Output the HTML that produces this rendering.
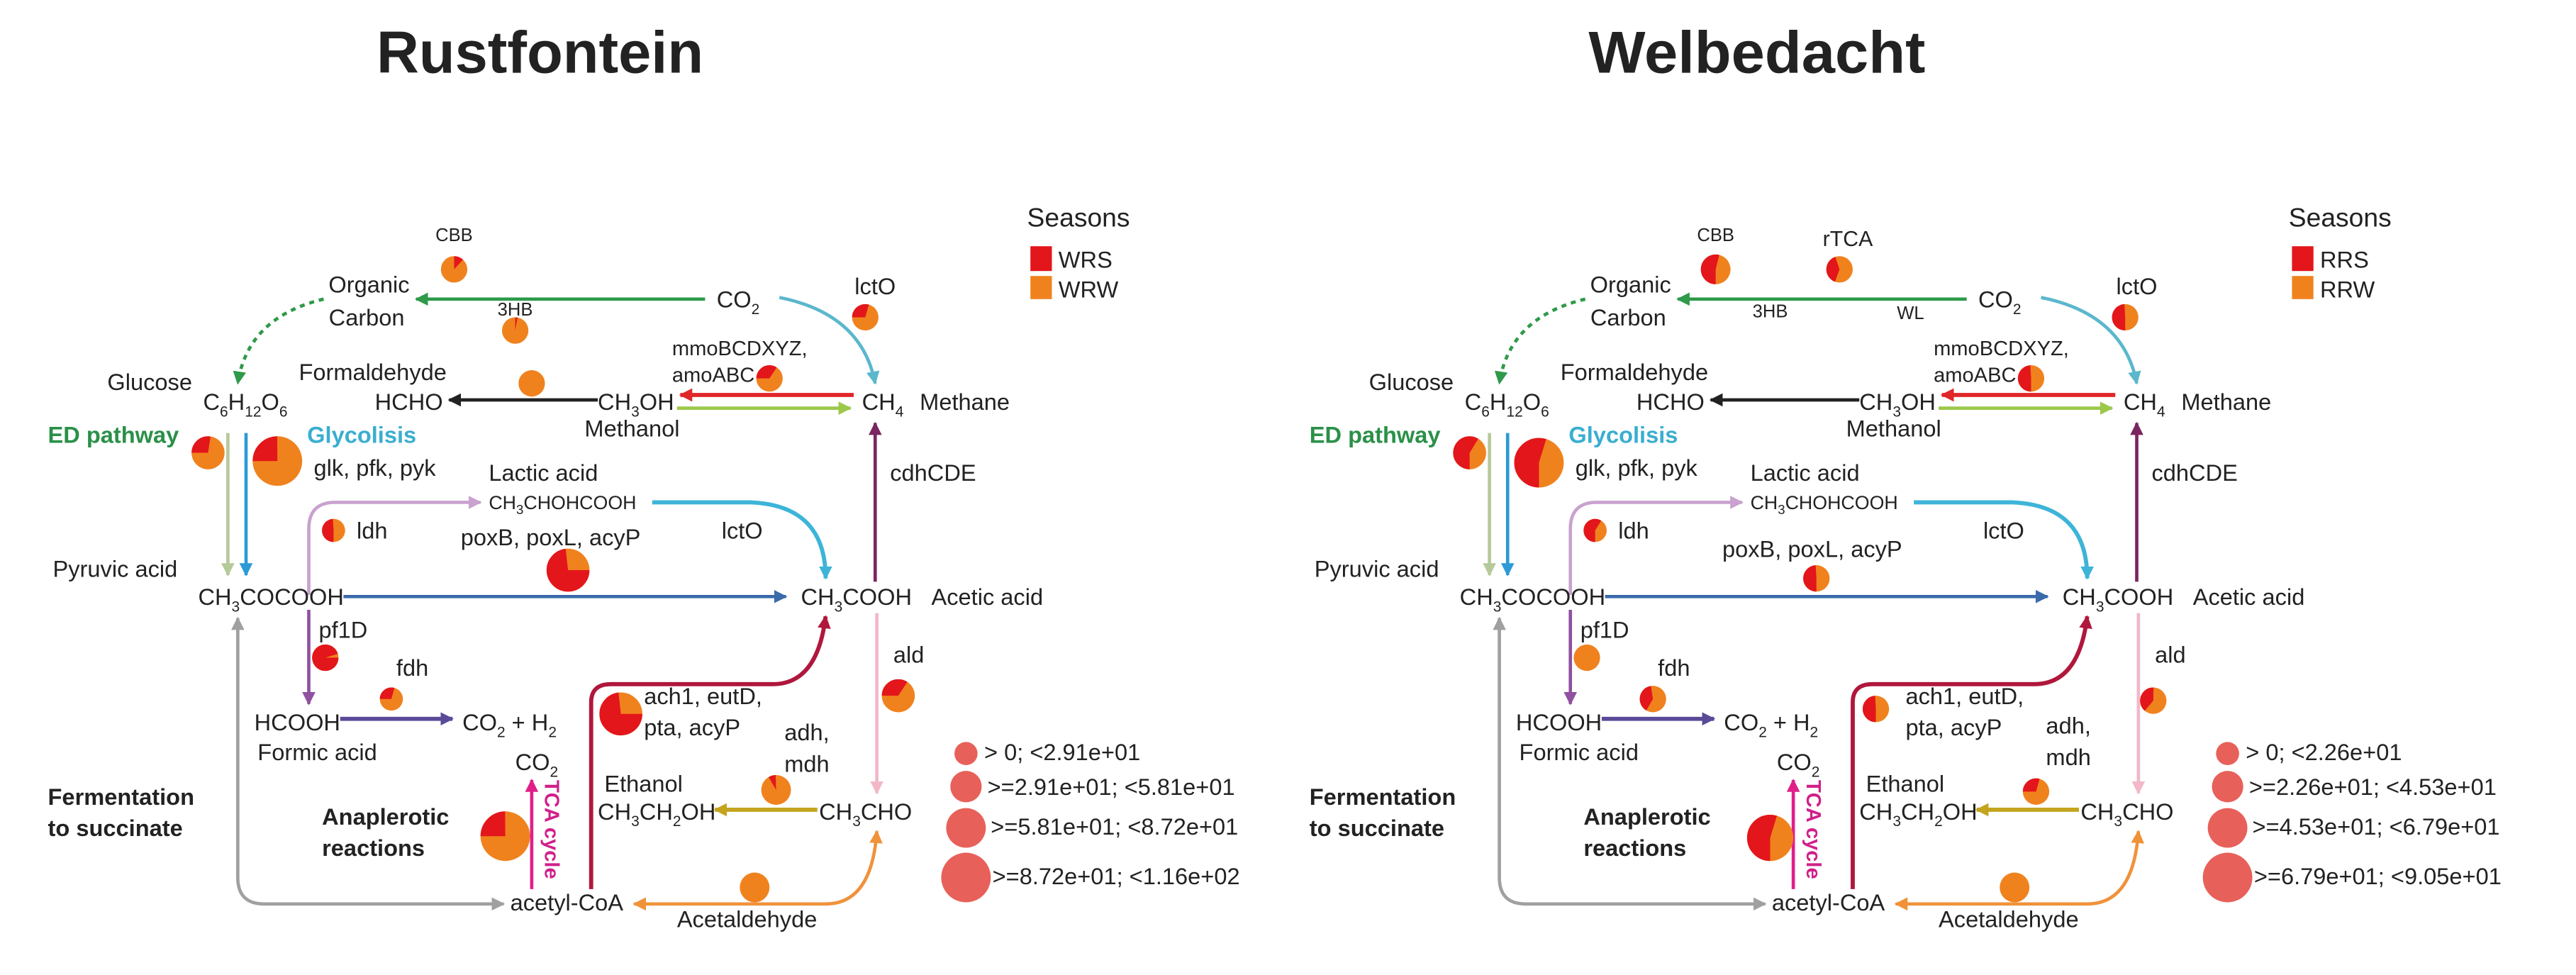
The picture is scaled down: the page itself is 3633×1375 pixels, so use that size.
<!DOCTYPE html>
<html><head><meta charset="utf-8"><style>
html,body{margin:0;padding:0;background:#fff;}
svg{display:block;}
text{font-family:"Liberation Sans",sans-serif;fill:#222;}
</style></head><body>
<svg width="3633" height="1375" viewBox="0 0 1560 590" preserveAspectRatio="none" xmlns="http://www.w3.org/2000/svg">
<defs>
<marker id="mGreen" viewBox="0 0 10 10" refX="9" refY="5" markerWidth="8" markerHeight="8" markerUnits="userSpaceOnUse" orient="auto-start-reverse"><path d="M0,0 L10,5 L0,10 z" fill="#2e9a4a"/></marker>
<marker id="mCyan" viewBox="0 0 10 10" refX="9" refY="5" markerWidth="8" markerHeight="8" markerUnits="userSpaceOnUse" orient="auto-start-reverse"><path d="M0,0 L10,5 L0,10 z" fill="#5bb7cc"/></marker>
<marker id="mCyan2" viewBox="0 0 10 10" refX="9" refY="5" markerWidth="8" markerHeight="8" markerUnits="userSpaceOnUse" orient="auto-start-reverse"><path d="M0,0 L10,5 L0,10 z" fill="#3db4d8"/></marker>
<marker id="mBlack" viewBox="0 0 10 10" refX="9" refY="5" markerWidth="8" markerHeight="8" markerUnits="userSpaceOnUse" orient="auto-start-reverse"><path d="M0,0 L10,5 L0,10 z" fill="#222"/></marker>
<marker id="mRed" viewBox="0 0 10 10" refX="9" refY="5" markerWidth="8" markerHeight="8" markerUnits="userSpaceOnUse" orient="auto-start-reverse"><path d="M0,0 L10,5 L0,10 z" fill="#e0262a"/></marker>
<marker id="mLg" viewBox="0 0 10 10" refX="9" refY="5" markerWidth="8" markerHeight="8" markerUnits="userSpaceOnUse" orient="auto-start-reverse"><path d="M0,0 L10,5 L0,10 z" fill="#9cc84a"/></marker>
<marker id="mSage" viewBox="0 0 10 10" refX="9" refY="5" markerWidth="8" markerHeight="8" markerUnits="userSpaceOnUse" orient="auto-start-reverse"><path d="M0,0 L10,5 L0,10 z" fill="#b6c99a"/></marker>
<marker id="mBlue" viewBox="0 0 10 10" refX="9" refY="5" markerWidth="8" markerHeight="8" markerUnits="userSpaceOnUse" orient="auto-start-reverse"><path d="M0,0 L10,5 L0,10 z" fill="#2c9ad6"/></marker>
<marker id="mLav" viewBox="0 0 10 10" refX="9" refY="5" markerWidth="8" markerHeight="8" markerUnits="userSpaceOnUse" orient="auto-start-reverse"><path d="M0,0 L10,5 L0,10 z" fill="#c9a2cf"/></marker>
<marker id="mPlum" viewBox="0 0 10 10" refX="9" refY="5" markerWidth="8" markerHeight="8" markerUnits="userSpaceOnUse" orient="auto-start-reverse"><path d="M0,0 L10,5 L0,10 z" fill="#7a2560"/></marker>
<marker id="mNavy" viewBox="0 0 10 10" refX="9" refY="5" markerWidth="8" markerHeight="8" markerUnits="userSpaceOnUse" orient="auto-start-reverse"><path d="M0,0 L10,5 L0,10 z" fill="#3a6aaa"/></marker>
<marker id="mPurp" viewBox="0 0 10 10" refX="9" refY="5" markerWidth="8" markerHeight="8" markerUnits="userSpaceOnUse" orient="auto-start-reverse"><path d="M0,0 L10,5 L0,10 z" fill="#9050a0"/></marker>
<marker id="mDp" viewBox="0 0 10 10" refX="9" refY="5" markerWidth="8" markerHeight="8" markerUnits="userSpaceOnUse" orient="auto-start-reverse"><path d="M0,0 L10,5 L0,10 z" fill="#5a4a98"/></marker>
<marker id="mPink" viewBox="0 0 10 10" refX="9" refY="5" markerWidth="8" markerHeight="8" markerUnits="userSpaceOnUse" orient="auto-start-reverse"><path d="M0,0 L10,5 L0,10 z" fill="#f2b8c8"/></marker>
<marker id="mCrim" viewBox="0 0 10 10" refX="9" refY="5" markerWidth="8" markerHeight="8" markerUnits="userSpaceOnUse" orient="auto-start-reverse"><path d="M0,0 L10,5 L0,10 z" fill="#b0173c"/></marker>
<marker id="mMag" viewBox="0 0 10 10" refX="9" refY="5" markerWidth="8" markerHeight="8" markerUnits="userSpaceOnUse" orient="auto-start-reverse"><path d="M0,0 L10,5 L0,10 z" fill="#e0208a"/></marker>
<marker id="mOlive" viewBox="0 0 10 10" refX="9" refY="5" markerWidth="8" markerHeight="8" markerUnits="userSpaceOnUse" orient="auto-start-reverse"><path d="M0,0 L10,5 L0,10 z" fill="#c4a41e"/></marker>
<marker id="mGray" viewBox="0 0 10 10" refX="9" refY="5" markerWidth="8" markerHeight="8" markerUnits="userSpaceOnUse" orient="auto-start-reverse"><path d="M0,0 L10,5 L0,10 z" fill="#a0a0a0"/></marker>
<marker id="mOr" viewBox="0 0 10 10" refX="9" refY="5" markerWidth="8" markerHeight="8" markerUnits="userSpaceOnUse" orient="auto-start-reverse"><path d="M0,0 L10,5 L0,10 z" fill="#f0923a"/></marker>
</defs>

<text x="327" y="44" font-size="36" font-weight="bold" text-anchor="middle" textLength="198" lengthAdjust="spacingAndGlyphs">Rustfontein</text>
<text x="1064" y="44" font-size="36" font-weight="bold" text-anchor="middle" textLength="204" lengthAdjust="spacingAndGlyphs">Welbedacht</text>

<!-- LEFT PANEL -->
<g id="L">
<g fill="none" stroke-width="2">
<path d="M427,181 L252,181" stroke="#2e9a4a" marker-end="url(#mGreen)"/>
<path d="M472,180 Q522,190 530,232" stroke="#5bb7cc" marker-end="url(#mCyan)"/>
<path d="M196,181 Q150,192 144,232" stroke="#2e9a4a" stroke-dasharray="3,3" marker-end="url(#mGreen)"/>
<path d="M362,242 L272,242" stroke="#222" marker-end="url(#mBlack)"/>
<path d="M517,239 L412,239" stroke="#e0262a" stroke-width="2.5" marker-end="url(#mRed)"/>
<path d="M410,247 L515,247" stroke="#9cc84a" marker-end="url(#mLg)"/>
<path d="M138,262 L138,348" stroke="#b6c99a" marker-end="url(#mSage)"/>
<path d="M149,262 L149,348" stroke="#2c9ad6" marker-end="url(#mBlue)"/>
<path d="M187,360 L187,320 Q187,304 203,304 L291,304" stroke="#c9a2cf" marker-end="url(#mLav)"/>
<path d="M395,304 L455,304 Q500,306 500,350" stroke="#3db4d8" stroke-width="2.5" marker-end="url(#mCyan2)"/>
<path d="M530,352 L530,256" stroke="#7a2560" marker-end="url(#mPlum)"/>
<path d="M208,361 L476,361" stroke="#3a6aaa" marker-end="url(#mNavy)"/>
<path d="M187,369 L187,426" stroke="#9050a0" marker-end="url(#mPurp)"/>
<path d="M206,435 L274,435" stroke="#5a4a98" stroke-width="2.5" marker-end="url(#mDp)"/>
<path d="M531,371 L531,480" stroke="#f2b8c8" marker-end="url(#mPink)"/>
<path d="M358,538 L358,425 Q358,414 370,414 L468,414 Q495,414 500,373" stroke="#b0173c" stroke-width="2.5" marker-end="url(#mCrim)"/>
<path d="M322,538 L322,472" stroke="#e0208a" marker-end="url(#mMag)"/>
<path d="M495,490 L433,490" stroke="#c4a41e" stroke-width="2.5" marker-end="url(#mOlive)"/>
<path d="M305,547 L160,547 Q144,547 144,531 L144,374" stroke="#a0a0a0" marker-start="url(#mGray)" marker-end="url(#mGray)"/>
<path d="M384,547 L500,547 Q528,547 531,503" stroke="#f0923a" marker-start="url(#mOr)" marker-end="url(#mOr)"/>
</g>
<g font-size="14">
<text x="248" y="177" text-anchor="end">Organic</text>
<text x="245" y="197" text-anchor="end">Carbon</text>
<text x="434" y="186">CO<tspan font-size="9" dy="4">2</tspan></text>
<text x="530" y="178" text-anchor="middle">lctO</text>
<text x="407" y="215" font-size="12.5">mmoBCDXYZ,</text>
<text x="407" y="231" font-size="12.5">amoABC</text>
<text x="181" y="230">Formaldehyde</text>
<text x="65" y="236">Glucose</text>
<text x="123" y="248">C<tspan font-size="9" dy="4">6</tspan><tspan dy="-4">H</tspan><tspan font-size="9" dy="4">12</tspan><tspan dy="-4">O</tspan><tspan font-size="9" dy="4">6</tspan></text>
<text x="227" y="248">HCHO</text>
<text x="362" y="248">CH<tspan font-size="9" dy="4">3</tspan><tspan dy="-4">OH</tspan></text>
<text x="522" y="248">CH<tspan font-size="9" dy="4">4</tspan></text>
<text x="557" y="248">Methane</text>
<text x="354" y="264">Methanol</text>
<text x="29" y="268" font-weight="bold" fill="#2a9048" style="fill:#2a9048">ED pathway</text>
<text x="186" y="268" font-weight="bold" style="fill:#3aaed0">Glycolisis</text>
<text x="190" y="288">glk, pfk, pyk</text>
<text x="296" y="291">Lactic acid</text>
<text x="296" y="308" font-size="11.5">CH<tspan font-size="8" dy="3">3</tspan><tspan dy="-3">CHOHCOOH</tspan></text>
<text x="216" y="326">ldh</text>
<text x="279" y="330">poxB, poxL, acyP</text>
<text x="437" y="326">lctO</text>
<text x="539" y="291">cdhCDE</text>
<text x="32" y="349">Pyruvic acid</text>
<text x="120" y="366">CH<tspan font-size="9" dy="4">3</tspan><tspan dy="-4">COCOOH</tspan></text>
<text x="485" y="366">CH<tspan font-size="9" dy="4">3</tspan><tspan dy="-4">COOH</tspan></text>
<text x="564" y="366">Acetic acid</text>
<text x="193" y="386">pf1D</text>
<text x="240" y="409">fdh</text>
<text x="541" y="401">ald</text>
<text x="390" y="426">ach1, eutD,</text>
<text x="390" y="445">pta, acyP</text>
<text x="154" y="442">HCOOH</text>
<text x="280" y="442">CO<tspan font-size="9" dy="4">2</tspan><tspan dy="-4"> + H</tspan><tspan font-size="9" dy="4">2</tspan></text>
<text x="475" y="448">adh,</text>
<text x="475" y="467">mdh</text>
<text x="156" y="460">Formic acid</text>
<text x="312" y="466">CO<tspan font-size="9" dy="4">2</tspan></text>
<text x="330" y="472" font-size="12.5" font-weight="bold" style="fill:#d0208a" transform="rotate(90 330 472)">TCA cycle</text>
<text x="366" y="479">Ethanol</text>
<text x="362" y="496">CH<tspan font-size="9" dy="4">3</tspan><tspan dy="-4">CH</tspan><tspan font-size="9" dy="4">2</tspan><tspan dy="-4">OH</tspan></text>
<text x="496" y="496">CH<tspan font-size="9" dy="4">3</tspan><tspan dy="-4">CHO</tspan></text>
<text x="29" y="487" font-weight="bold">Fermentation</text>
<text x="29" y="506" font-weight="bold">to succinate</text>
<text x="195" y="499" font-weight="bold">Anaplerotic</text>
<text x="195" y="518" font-weight="bold">reactions</text>
<text x="309" y="551">acetyl-CoA</text>
<text x="410" y="561">Acetaldehyde</text>
</g>
</g>

<!-- RIGHT PANEL (shared structure) -->
<g transform="translate(764,0)">
<g fill="none" stroke-width="2">
<path d="M427,181 L252,181" stroke="#2e9a4a" marker-end="url(#mGreen)"/>
<path d="M472,180 Q522,190 530,232" stroke="#5bb7cc" marker-end="url(#mCyan)"/>
<path d="M196,181 Q150,192 144,232" stroke="#2e9a4a" stroke-dasharray="3,3" marker-end="url(#mGreen)"/>
<path d="M362,242 L272,242" stroke="#222" marker-end="url(#mBlack)"/>
<path d="M517,239 L412,239" stroke="#e0262a" stroke-width="2.5" marker-end="url(#mRed)"/>
<path d="M410,247 L515,247" stroke="#9cc84a" marker-end="url(#mLg)"/>
<path d="M138,262 L138,348" stroke="#b6c99a" marker-end="url(#mSage)"/>
<path d="M149,262 L149,348" stroke="#2c9ad6" marker-end="url(#mBlue)"/>
<path d="M187,360 L187,320 Q187,304 203,304 L291,304" stroke="#c9a2cf" marker-end="url(#mLav)"/>
<path d="M395,304 L455,304 Q500,306 500,350" stroke="#3db4d8" stroke-width="2.5" marker-end="url(#mCyan2)"/>
<path d="M530,352 L530,256" stroke="#7a2560" marker-end="url(#mPlum)"/>
<path d="M208,361 L476,361" stroke="#3a6aaa" marker-end="url(#mNavy)"/>
<path d="M187,369 L187,426" stroke="#9050a0" marker-end="url(#mPurp)"/>
<path d="M206,435 L274,435" stroke="#5a4a98" stroke-width="2.5" marker-end="url(#mDp)"/>
<path d="M531,371 L531,480" stroke="#f2b8c8" marker-end="url(#mPink)"/>
<path d="M358,538 L358,425 Q358,414 370,414 L468,414 Q495,414 500,373" stroke="#b0173c" stroke-width="2.5" marker-end="url(#mCrim)"/>
<path d="M322,538 L322,472" stroke="#e0208a" marker-end="url(#mMag)"/>
<path d="M495,490 L433,490" stroke="#c4a41e" stroke-width="2.5" marker-end="url(#mOlive)"/>
<path d="M305,547 L160,547 Q144,547 144,531 L144,374" stroke="#a0a0a0" marker-start="url(#mGray)" marker-end="url(#mGray)"/>
<path d="M384,547 L500,547 Q528,547 531,503" stroke="#f0923a" marker-start="url(#mOr)" marker-end="url(#mOr)"/>
</g>
<g font-size="14">
<text x="248" y="177" text-anchor="end">Organic</text>
<text x="245" y="197" text-anchor="end">Carbon</text>
<text x="434" y="186">CO<tspan font-size="9" dy="4">2</tspan></text>
<text x="530" y="178" text-anchor="middle">lctO</text>
<text x="407" y="215" font-size="12.5">mmoBCDXYZ,</text>
<text x="407" y="231" font-size="12.5">amoABC</text>
<text x="181" y="230">Formaldehyde</text>
<text x="65" y="236">Glucose</text>
<text x="123" y="248">C<tspan font-size="9" dy="4">6</tspan><tspan dy="-4">H</tspan><tspan font-size="9" dy="4">12</tspan><tspan dy="-4">O</tspan><tspan font-size="9" dy="4">6</tspan></text>
<text x="227" y="248">HCHO</text>
<text x="362" y="248">CH<tspan font-size="9" dy="4">3</tspan><tspan dy="-4">OH</tspan></text>
<text x="522" y="248">CH<tspan font-size="9" dy="4">4</tspan></text>
<text x="557" y="248">Methane</text>
<text x="354" y="264">Methanol</text>
<text x="29" y="268" font-weight="bold" style="fill:#2a9048">ED pathway</text>
<text x="186" y="268" font-weight="bold" style="fill:#3aaed0">Glycolisis</text>
<text x="190" y="288">glk, pfk, pyk</text>
<text x="296" y="291">Lactic acid</text>
<text x="296" y="308" font-size="11.5">CH<tspan font-size="8" dy="3">3</tspan><tspan dy="-3">CHOHCOOH</tspan></text>
<text x="216" y="326">ldh</text>
<text x="279" y="337">poxB, poxL, acyP</text>
<text x="437" y="326">lctO</text>
<text x="539" y="291">cdhCDE</text>
<text x="32" y="349">Pyruvic acid</text>
<text x="120" y="366">CH<tspan font-size="9" dy="4">3</tspan><tspan dy="-4">COCOOH</tspan></text>
<text x="485" y="366">CH<tspan font-size="9" dy="4">3</tspan><tspan dy="-4">COOH</tspan></text>
<text x="564" y="366">Acetic acid</text>
<text x="193" y="386">pf1D</text>
<text x="240" y="409">fdh</text>
<text x="541" y="401">ald</text>
<text x="390" y="426">ach1, eutD,</text>
<text x="390" y="445">pta, acyP</text>
<text x="154" y="442">HCOOH</text>
<text x="280" y="442">CO<tspan font-size="9" dy="4">2</tspan><tspan dy="-4"> + H</tspan><tspan font-size="9" dy="4">2</tspan></text>
<text x="475" y="444">adh,</text>
<text x="475" y="463">mdh</text>
<text x="156" y="460">Formic acid</text>
<text x="312" y="466">CO<tspan font-size="9" dy="4">2</tspan></text>
<text x="330" y="472" font-size="12.5" font-weight="bold" style="fill:#d0208a" transform="rotate(90 330 472)">TCA cycle</text>
<text x="366" y="479">Ethanol</text>
<text x="362" y="496">CH<tspan font-size="9" dy="4">3</tspan><tspan dy="-4">CH</tspan><tspan font-size="9" dy="4">2</tspan><tspan dy="-4">OH</tspan></text>
<text x="496" y="496">CH<tspan font-size="9" dy="4">3</tspan><tspan dy="-4">CHO</tspan></text>
<text x="29" y="487" font-weight="bold">Fermentation</text>
<text x="29" y="506" font-weight="bold">to succinate</text>
<text x="195" y="499" font-weight="bold">Anaplerotic</text>
<text x="195" y="518" font-weight="bold">reactions</text>
<text x="309" y="551">acetyl-CoA</text>
<text x="410" y="561">Acetaldehyde</text>
</g>
</g>

<!-- Left specific labels -->
<g font-size="11">
<text x="275" y="146" text-anchor="middle">CBB</text>
<text x="312" y="191" text-anchor="middle">3HB</text>
<text x="1039" y="146" text-anchor="middle">CBB</text>
<text x="1119" y="149" text-anchor="middle" font-size="13">rTCA</text>
<text x="1072" y="192" text-anchor="middle">3HB</text>
<text x="1157" y="193" text-anchor="middle">WL</text>
</g>

<!-- Seasons legends -->
<text x="622" y="137" font-size="16">Seasons</text>
<rect x="624" y="149" width="13" height="15" fill="#e3161b"/>
<rect x="624" y="167" width="13" height="14" fill="#f0821e"/>
<text x="641" y="162" font-size="14">WRS</text>
<text x="641" y="180" font-size="14">WRW</text>
<text x="1386" y="137" font-size="16">Seasons</text>
<rect x="1388" y="149" width="13" height="15" fill="#e3161b"/>
<rect x="1388" y="167" width="13" height="14" fill="#f0821e"/>
<text x="1405" y="162" font-size="14">RRS</text>
<text x="1405" y="180" font-size="14">RRW</text>

<!-- Size legends -->
<g fill="#e8605a">
<circle cx="585" cy="456" r="7"/><circle cx="585" cy="476" r="9.5"/><circle cx="585" cy="501" r="12"/><circle cx="585" cy="531" r="15"/>
<circle cx="1349" cy="456" r="7"/><circle cx="1349" cy="476" r="9.5"/><circle cx="1349" cy="501" r="12"/><circle cx="1349" cy="531" r="15"/>
</g>
<g font-size="14">
<text x="596" y="460">&gt; 0; &lt;2.91e+01</text>
<text x="598" y="481">&gt;=2.91e+01; &lt;5.81e+01</text>
<text x="600" y="505">&gt;=5.81e+01; &lt;8.72e+01</text>
<text x="601" y="535">&gt;=8.72e+01; &lt;1.16e+02</text>
<text x="1360" y="460">&gt; 0; &lt;2.26e+01</text>
<text x="1362" y="481">&gt;=2.26e+01; &lt;4.53e+01</text>
<text x="1364" y="505">&gt;=4.53e+01; &lt;6.79e+01</text>
<text x="1365" y="535">&gt;=6.79e+01; &lt;9.05e+01</text>
</g>

<!-- Pies: orange base + red wedge -->
<g>
<!-- left -->
<circle cx="275" cy="163" r="8" fill="#f0821e"/><circle cx="275" cy="163" r="4" fill="none" stroke="#e3161b" stroke-width="8" pathLength="100" stroke-dasharray="12 100" transform="rotate(-90 275 163)"/>
<circle cx="312" cy="200" r="8" fill="#f0821e"/><circle cx="312" cy="200" r="4" fill="none" stroke="#e3161b" stroke-width="8" pathLength="100" stroke-dasharray="3 100" transform="rotate(-90 312 200)"/>
<circle cx="524" cy="192" r="8" fill="#f0821e"/><circle cx="524" cy="192" r="4" fill="none" stroke="#e3161b" stroke-width="8" pathLength="100" stroke-dasharray="30 100" transform="rotate(-180 524 192)"/>
<circle cx="322" cy="232" r="8" fill="#f0821e"/>
<circle cx="466" cy="229" r="8" fill="#f0821e"/><circle cx="466" cy="229" r="4" fill="none" stroke="#e3161b" stroke-width="8" pathLength="100" stroke-dasharray="35 100" transform="rotate(-180 466 229)"/>
<circle cx="126" cy="274" r="10" fill="#f0821e"/><circle cx="126" cy="274" r="5" fill="none" stroke="#e3161b" stroke-width="10" pathLength="100" stroke-dasharray="28 100" transform="rotate(-180 126 274)"/>
<circle cx="168" cy="279" r="15" fill="#f0821e"/><circle cx="168" cy="279" r="7.5" fill="none" stroke="#e3161b" stroke-width="15" pathLength="100" stroke-dasharray="25 100" transform="rotate(-180 168 279)"/>
<circle cx="202" cy="321" r="7" fill="#f0821e"/><circle cx="202" cy="321" r="3.5" fill="none" stroke="#e3161b" stroke-width="7" pathLength="100" stroke-dasharray="50 100" transform="rotate(90 202 321)"/>
<circle cx="344" cy="345" r="13" fill="#f0821e"/><circle cx="344" cy="345" r="6.5" fill="none" stroke="#e3161b" stroke-width="13" pathLength="100" stroke-dasharray="75 100"/>
<circle cx="197" cy="398" r="8" fill="#f0821e"/><circle cx="197" cy="398" r="4" fill="none" stroke="#e3161b" stroke-width="8" pathLength="100" stroke-dasharray="97 100"/>
<circle cx="237" cy="423" r="7" fill="#f0821e"/><circle cx="237" cy="423" r="3.5" fill="none" stroke="#e3161b" stroke-width="7" pathLength="100" stroke-dasharray="30 100" transform="rotate(-180 237 423)"/>
<circle cx="544" cy="421" r="10" fill="#f0821e"/><circle cx="544" cy="421" r="5" fill="none" stroke="#e3161b" stroke-width="10" pathLength="100" stroke-dasharray="35 100" transform="rotate(-180 544 421)"/>
<circle cx="376" cy="432" r="13" fill="#f0821e"/><circle cx="376" cy="432" r="6.5" fill="none" stroke="#e3161b" stroke-width="13" pathLength="100" stroke-dasharray="75 100"/>
<circle cx="470" cy="478" r="9" fill="#f0821e"/><circle cx="470" cy="478" r="4.5" fill="none" stroke="#e3161b" stroke-width="9" pathLength="100" stroke-dasharray="8 100" transform="rotate(-120 470 478)"/>
<circle cx="306" cy="506" r="15" fill="#f0821e"/><circle cx="306" cy="506" r="7.5" fill="none" stroke="#e3161b" stroke-width="15" pathLength="100" stroke-dasharray="25 100" transform="rotate(-180 306 506)"/>
<circle cx="457" cy="537" r="9" fill="#f0821e"/>
<!-- right -->
<circle cx="1039" cy="163" r="9" fill="#f0821e"/><circle cx="1039" cy="163" r="4.5" fill="none" stroke="#e3161b" stroke-width="9" pathLength="100" stroke-dasharray="55 100" transform="rotate(90 1039 163)"/>
<circle cx="1114" cy="163" r="8" fill="#f0821e"/><circle cx="1114" cy="163" r="4" fill="none" stroke="#e3161b" stroke-width="8" pathLength="100" stroke-dasharray="40 100" transform="rotate(110 1114 163)"/>
<circle cx="1287" cy="192" r="8" fill="#f0821e"/><circle cx="1287" cy="192" r="4" fill="none" stroke="#e3161b" stroke-width="8" pathLength="100" stroke-dasharray="50 100" transform="rotate(90 1287 192)"/>
<circle cx="1230" cy="229" r="8" fill="#f0821e"/><circle cx="1230" cy="229" r="4" fill="none" stroke="#e3161b" stroke-width="8" pathLength="100" stroke-dasharray="50 100" transform="rotate(90 1230 229)"/>
<circle cx="890" cy="274" r="10" fill="#f0821e"/><circle cx="890" cy="274" r="5" fill="none" stroke="#e3161b" stroke-width="10" pathLength="100" stroke-dasharray="60 100" transform="rotate(90 890 274)"/>
<circle cx="932" cy="280" r="15" fill="#f0821e"/><circle cx="932" cy="280" r="7.5" fill="none" stroke="#e3161b" stroke-width="15" pathLength="100" stroke-dasharray="55 100" transform="rotate(90 932 280)"/>
<circle cx="966" cy="321" r="7" fill="#f0821e"/><circle cx="966" cy="321" r="3.5" fill="none" stroke="#e3161b" stroke-width="7" pathLength="100" stroke-dasharray="60 100" transform="rotate(90 966 321)"/>
<circle cx="1100" cy="350" r="8" fill="#f0821e"/><circle cx="1100" cy="350" r="4" fill="none" stroke="#e3161b" stroke-width="8" pathLength="100" stroke-dasharray="50 100" transform="rotate(90 1100 350)"/>
<circle cx="961" cy="398" r="8" fill="#f0821e"/>
<circle cx="1001" cy="423" r="8" fill="#f0821e"/><circle cx="1001" cy="423" r="4" fill="none" stroke="#e3161b" stroke-width="8" pathLength="100" stroke-dasharray="40 100" transform="rotate(120 1001 423)"/>
<circle cx="1136" cy="429" r="8" fill="#f0821e"/><circle cx="1136" cy="429" r="4" fill="none" stroke="#e3161b" stroke-width="8" pathLength="100" stroke-dasharray="50 100" transform="rotate(90 1136 429)"/>
<circle cx="1304" cy="424" r="8" fill="#f0821e"/><circle cx="1304" cy="424" r="4" fill="none" stroke="#e3161b" stroke-width="8" pathLength="100" stroke-dasharray="40 100" transform="rotate(130 1304 424)"/>
<circle cx="1233" cy="479" r="8" fill="#f0821e"/><circle cx="1233" cy="479" r="4" fill="none" stroke="#e3161b" stroke-width="8" pathLength="100" stroke-dasharray="30 100" transform="rotate(-180 1233 479)"/>
<circle cx="1072" cy="507" r="14" fill="#f0821e"/><circle cx="1072" cy="507" r="7" fill="none" stroke="#e3161b" stroke-width="14" pathLength="100" stroke-dasharray="55 100" transform="rotate(90 1072 507)"/>
<circle cx="1220" cy="537" r="9" fill="#f0821e"/>
</g>
</svg>
</body></html>
